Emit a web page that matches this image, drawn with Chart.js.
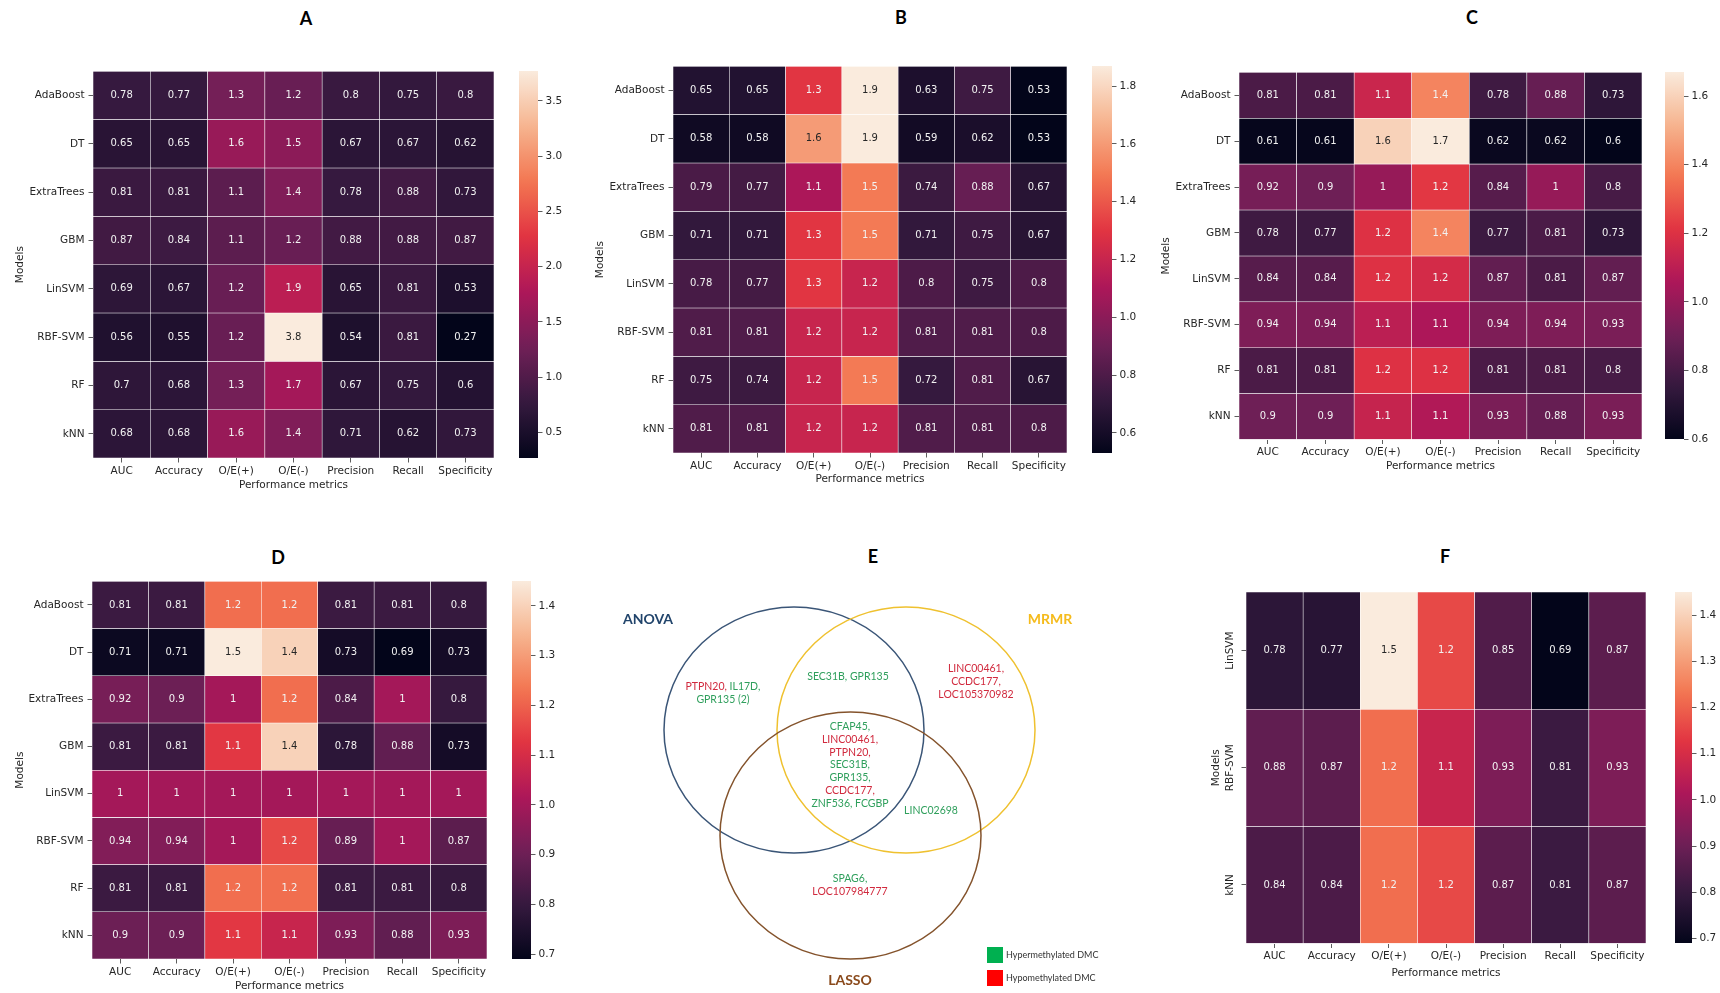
<!DOCTYPE html>
<html>
<head>
<meta charset="utf-8">
<script src="https://cdn.jsdelivr.net/npm/chart.js@4.4.1/dist/chart.umd.min.js"></script>
<style>
  html, body { margin: 0; padding: 0; background: #fff; }
  body { width: 1720px; height: 993px; position: relative; overflow: hidden; }
  canvas { position: absolute; }
  .panel { position: absolute; transform: translate(-50%, -50%); font-family: Lato, 'Open Sans', sans-serif; font-weight: bold; font-size: 18px; color: #000; }
</style>
</head>
<body>
<div class="panel" style="left:306px;top:18px">A</div>
<div class="panel" style="left:901px;top:17px">B</div>
<div class="panel" style="left:1472px;top:17px">C</div>
<div class="panel" style="left:278px;top:557px">D</div>
<div class="panel" style="left:873px;top:556px">E</div>
<div class="panel" style="left:1445px;top:556px">F</div>
<script>
// ---- data ----
const metrics = ['AUC', 'Accuracy', 'O/E(+)', 'O/E(-)', 'Precision', 'Recall', 'Specificity'];
const models = ['AdaBoost', 'DT', 'ExtraTrees', 'GBM', 'LinSVM', 'RBF-SVM', 'RF', 'kNN'];
const modelsF = ['LinSVM', 'RBF-SVM', 'kNN'];

// cell values (printed to 2 significant digits; O/E cells estimated from cell colour where the print is rounded)
const valuesA = [
  [0.78, 0.77, 1.3, 1.2, 0.8, 0.75, 0.8],
  [0.65, 0.65, 1.6, 1.5, 0.67, 0.67, 0.62],
  [0.81, 0.81, 1.1, 1.4, 0.78, 0.88, 0.73],
  [0.87, 0.84, 1.1, 1.2, 0.88, 0.88, 0.87],
  [0.69, 0.67, 1.2, 1.9, 0.65, 0.81, 0.53],
  [0.56, 0.55, 1.2, 3.8, 0.54, 0.81, 0.27],
  [0.7, 0.68, 1.3, 1.7, 0.67, 0.75, 0.6],
  [0.68, 0.68, 1.6, 1.4, 0.71, 0.62, 0.73]
];
const valuesB = [
  [0.65, 0.65, 1.3, 1.9, 0.63, 0.75, 0.53],
  [0.58, 0.58, 1.6, 1.9, 0.59, 0.62, 0.53],
  [0.79, 0.77, 1.1, 1.5, 0.74, 0.88, 0.67],
  [0.71, 0.71, 1.3, 1.5, 0.71, 0.75, 0.67],
  [0.78, 0.77, 1.3, 1.2, 0.8, 0.75, 0.8],
  [0.81, 0.81, 1.2, 1.2, 0.81, 0.81, 0.8],
  [0.75, 0.74, 1.2, 1.5, 0.72, 0.81, 0.67],
  [0.81, 0.81, 1.2, 1.2, 0.81, 0.81, 0.8]
];
const valuesC = [
  [0.81, 0.81, 1.14, 1.4, 0.78, 0.88, 0.73],
  [0.61, 0.61, 1.6, 1.7, 0.62, 0.62, 0.6],
  [0.92, 0.9, 1, 1.22, 0.84, 1, 0.8],
  [0.78, 0.77, 1.2, 1.4, 0.77, 0.81, 0.73],
  [0.84, 0.84, 1.2, 1.17, 0.87, 0.81, 0.87],
  [0.94, 0.94, 1.1, 1.06, 0.94, 0.94, 0.93],
  [0.81, 0.81, 1.2, 1.2, 0.81, 0.81, 0.8],
  [0.9, 0.9, 1.13, 1.07, 0.93, 0.88, 0.93]
];
const valuesD = [
  [0.81, 0.81, 1.22, 1.22, 0.81, 0.81, 0.8],
  [0.71, 0.71, 1.5, 1.4, 0.73, 0.69, 0.73],
  [0.92, 0.9, 1, 1.22, 0.84, 1, 0.8],
  [0.81, 0.81, 1.13, 1.4, 0.78, 0.88, 0.73],
  [1, 1, 1, 1, 1, 1, 1],
  [0.94, 0.94, 1, 1.16, 0.89, 1, 0.87],
  [0.81, 0.81, 1.22, 1.22, 0.81, 0.81, 0.8],
  [0.9, 0.9, 1.13, 1.07, 0.93, 0.88, 0.93]
];
const valuesF = [
  [0.78, 0.77, 1.5, 1.16, 0.85, 0.69, 0.87],
  [0.88, 0.87, 1.22, 1.07, 0.93, 0.81, 0.93],
  [0.84, 0.84, 1.22, 1.16, 0.87, 0.81, 0.87]
];

// colorbar limits and ticks
const rangeA = [0.27, 3.77];
const rangeB = [0.53, 1.87];
const rangeC = [0.6, 1.67];
const rangeD = [0.69, 1.45];
const rangeF = [0.69, 1.45];
const ticksA = [0.5, 1.0, 1.5, 2.0, 2.5, 3.0, 3.5];
const ticksB = [0.6, 0.8, 1.0, 1.2, 1.4, 1.6, 1.8];
const ticksC = [0.6, 0.8, 1.0, 1.2, 1.4, 1.6];
const ticksD = [0.7, 0.8, 0.9, 1.0, 1.1, 1.2, 1.3, 1.4];
const ticksF = [0.7, 0.8, 0.9, 1.0, 1.1, 1.2, 1.3, 1.4];

// venn sets (panel E)
const hypoGenes = ['PTPN20', 'LINC00461', 'CCDC177', 'LOC105370982', 'LOC107984777'];
const anovaOnly = ['PTPN20', 'IL17D', 'GPR135 (2)'];
const anovaMrmr = ['SEC31B', 'GPR135'];
const mrmrOnly = ['LINC00461', 'CCDC177', 'LOC105370982'];
const allThree = ['CFAP45', 'LINC00461', 'PTPN20', 'SEC31B', 'GPR135', 'CCDC177', 'ZNF536', 'FCGBP'];
const mrmrLasso = ['LINC02698'];
const lassoOnly = ['SPAG6', 'LOC107984777'];

// ---- helpers ----
Chart.defaults.font.family = 'DejaVu Sans';
Chart.defaults.color = '#262626';

const rocketStops = [
  [0, [3, 5, 26]], [1 / 7, [53, 25, 62]], [2 / 7, [112, 31, 87]], [3 / 7, [173, 23, 89]],
  [4 / 7, [225, 51, 66]], [5 / 7, [243, 118, 81]], [6 / 7, [246, 180, 143]], [1, [250, 235, 221]]
];
function rocket(t) {
  t = Math.max(0, Math.min(1, t));
  for (let i = 1; i < rocketStops.length; i++) {
    const [t1, c1] = rocketStops[i];
    const [t0, c0] = rocketStops[i - 1];
    if (t <= t1) {
      const f = (t - t0) / (t1 - t0);
      return c0.map((c, k) => Math.round(c + (c1[k] - c) * f));
    }
  }
  return rocketStops[rocketStops.length - 1][1];
}
const css = c => `rgb(${c[0]},${c[1]},${c[2]})`;
function luminance(c) {
  const lin = c.map(v => { v /= 255; return v <= 0.03928 ? v / 12.92 : Math.pow((v + 0.055) / 1.055, 2.4); });
  return 0.2126 * lin[0] + 0.7152 * lin[1] + 0.0722 * lin[2];
}
const fmt = v => String(parseFloat(v.toPrecision(2)));

function addCanvas(x, y, w, h) {
  const c = document.createElement('canvas');
  c.width = Math.round(w); c.height = Math.round(h);
  c.style.left = Math.round(x) + 'px'; c.style.top = Math.round(y) + 'px';
  c.style.width = c.width + 'px'; c.style.height = c.height + 'px';
  document.body.appendChild(c);
  return c;
}

const annotate = {
  id: 'annotate',
  afterDatasetsDraw(chart) {
    const ctx = chart.ctx;
    ctx.save();
    ctx.font = '10px "DejaVu Sans"';
    ctx.textAlign = 'center';
    ctx.textBaseline = 'middle';
    chart.data.datasets.forEach((ds, i) => {
      chart.getDatasetMeta(i).data.forEach((bar, j) => {
        ctx.fillStyle = luminance(ds.rgb[j]) > 0.408 ? '#262626' : '#f2f2f2';
        ctx.fillText(fmt(ds.vals[j]), bar.x, (bar.y + bar.base) / 2);
      });
    });
    ctx.restore();
  }
};

const rotatedY = {
  id: 'rotatedY',
  afterDraw(chart, args, opts) {
    if (!opts.labels) return;
    const s = chart.scales.y, ctx = chart.ctx;
    ctx.save();
    ctx.font = '10.5px "DejaVu Sans"';
    ctx.fillStyle = '#262626';
    ctx.textAlign = 'center';
    ctx.textBaseline = 'middle';
    opts.labels.forEach((lab, i) => {
      ctx.save();
      ctx.translate(chart.chartArea.left - opts.offset, s.getPixelForValue(i + 0.5));
      ctx.rotate(-Math.PI / 2);
      ctx.fillText(lab, 0, 0);
      ctx.restore();
    });
    ctx.restore();
  }
};

const tickFont = { family: 'DejaVu Sans', size: 10.5 };
const gridOpts = { drawOnChartArea: false, offset: false, tickLength: 4.5, color: '#333', tickColor: '#333', tickWidth: 0.8 };

function heatmap(p) {
  const pad = 10;
  const cv = addCanvas(p.L - p.yW, p.T - pad, p.R - p.L + p.yW + pad, p.B - p.T + pad + p.xH);
  const rows = p.rows;
  return new Chart(cv, {
    type: 'bar',
    data: {
      labels: metrics,
      datasets: rows.map((r, i) => {
        const rgb = p.values[i].map(v => rocket((v - p.range[0]) / (p.range[1] - p.range[0])));
        return {
          label: r,
          data: p.values[i].map(() => [i, i + 1]),
          vals: p.values[i],
          rgb: rgb,
          backgroundColor: rgb.map(css),
          borderColor: 'rgba(255,255,255,0.85)',
          borderWidth: 0.6,
          borderSkipped: false,
          grouped: false,
          barPercentage: 1,
          categoryPercentage: 1
        };
      })
    },
    options: {
      responsive: false,
      animation: false,
      layout: { padding: { top: pad, right: pad, left: 0, bottom: 0 } },
      plugins: {
        legend: { display: false },
        tooltip: { enabled: false },
        rotatedY: { labels: p.rotated ? rows : null, offset: 16 }
      },
      scales: {
        x: {
          grid: gridOpts,
          border: { display: false },
          ticks: { font: tickFont, padding: 2, maxRotation: 0, autoSkip: false },
          title: { display: true, text: 'Performance metrics', font: tickFont, padding: { top: 0, bottom: 0 } },
          afterFit: s => { s.height = p.xH; }
        },
        y: {
          type: 'linear',
          min: 0,
          max: rows.length,
          reverse: true,
          afterBuildTicks: a => { a.ticks = rows.map((_, i) => ({ value: i + 0.5 })); },
          grid: gridOpts,
          border: { display: false },
          ticks: { display: !p.rotated, font: tickFont, padding: 4, callback: (v, i) => rows[i] },
          title: { display: true, text: 'Models', font: tickFont, padding: { top: p.yPad, bottom: 0 } },
          afterFit: s => { s.width = p.yW; }
        }
      }
    },
    plugins: [annotate, rotatedY]
  });
}

function colorbar(p) {
  const pad = 10, labW = 34;
  const cv = addCanvas(p.L, p.T - pad, p.R - p.L + labW, p.B - p.T + 2 * pad);
  new Chart(cv, {
    type: 'bar',
    data: {
      labels: [''],
      datasets: [{
        data: [p.range],
        backgroundColor: c => {
          const a = c.chart.chartArea;
          if (!a) return 'transparent';
          const g = c.chart.ctx.createLinearGradient(0, a.bottom, 0, a.top);
          for (let i = 0; i <= 40; i++) g.addColorStop(i / 40, css(rocket(i / 40)));
          return g;
        },
        borderWidth: 0,
        barPercentage: 1,
        categoryPercentage: 1
      }]
    },
    options: {
      responsive: false,
      animation: false,
      layout: { padding: { top: pad, bottom: pad } },
      plugins: { legend: { display: false }, tooltip: { enabled: false } },
      scales: {
        x: { display: false },
        y: {
          position: 'right',
          min: p.range[0],
          max: p.range[1],
          afterBuildTicks: a => { a.ticks = p.ticks.map(v => ({ value: v })); },
          grid: gridOpts,
          border: { display: false },
          ticks: { font: tickFont, padding: 3, callback: v => v.toFixed(1) },
          afterFit: s => { s.width = labW; }
        }
      }
    }
  });
}

// ---- panels A-D, F ----
heatmap({ L: 93, T: 71, R: 494, B: 457.6, yW: 93, yPad: 13.7, xH: 34, rows: models, values: valuesA, range: rangeA });
colorbar({ L: 519, T: 71, R: 538, B: 457.6, range: rangeA, ticks: ticksA });

heatmap({ L: 673, T: 65.7, R: 1067, B: 452.7, yW: 90, yPad: 11, xH: 33, rows: models, values: valuesB, range: rangeB });
colorbar({ L: 1092, T: 65.7, R: 1112, B: 452.7, range: rangeB, ticks: ticksB });

heatmap({ L: 1239, T: 71.7, R: 1642, B: 439, yW: 83, yPad: 3.7, xH: 33.5, rows: models, values: valuesC, range: rangeC });
colorbar({ L: 1665, T: 71.7, R: 1684, B: 439, range: rangeC, ticks: ticksC });

heatmap({ L: 92, T: 580.7, R: 487, B: 958.3, yW: 92, yPad: 13.7, xH: 34, rows: models, values: valuesD, range: rangeD });
colorbar({ L: 512, T: 580.7, R: 531, B: 958.3, range: rangeD, ticks: ticksD });

heatmap({ L: 1246, T: 591.7, R: 1646, B: 942.7, yW: 40, yPad: 3.7, xH: 36.5, rows: modelsF, values: valuesF, range: rangeF, rotated: true });
colorbar({ L: 1675, T: 591.7, R: 1692, B: 942.7, range: rangeF, ticks: ticksF });

// ---- panel E: venn ----
const vennSets = [
  { name: 'ANOVA', cx: 234, cy: 190, rx: 130, ry: 123, line: '#3a5577', text: '#21446b', lx: 88, ly: 79 },
  { name: 'MRMR', cx: 346, cy: 190, rx: 129, ry: 123, line: '#efc12f', text: '#f5bb1c', lx: 490, ly: 79 },
  { name: 'LASSO', cx: 290.5, cy: 295.5, rx: 130.5, ry: 123.5, line: '#84532c', text: '#8a4a1c', lx: 290, ly: 440 }
];
const vennRegions = [
  { genes: anovaOnly, x: 163, y: 147, lines: [2, 1] },
  { genes: anovaMrmr, x: 288, y: 137, lines: [2] },
  { genes: mrmrOnly, x: 416, y: 129, lines: [1, 1, 1] },
  { genes: allThree, x: 290, y: 187, lines: [1, 1, 1, 1, 1, 1, 2] },
  { genes: mrmrLasso, x: 371, y: 271, lines: [1] },
  { genes: lassoOnly, x: 290, y: 339, lines: [1, 1] }
];
const vennLegend = [
  { label: 'Hypermethylated DMC', color: '#00b050', x: 427, y: 407 },
  { label: 'Hypomethylated DMC', color: '#ff0000', x: 427, y: 430 }
];

const vennPlugin = {
  id: 'venn',
  afterDraw(chart) {
    const { ctx, scales: { x, y } } = chart;
    const px = v => x.getPixelForValue(v), py = v => y.getPixelForValue(v);
    ctx.save();
    vennSets.forEach(s => {
      ctx.beginPath();
      ctx.ellipse(px(s.cx), py(s.cy), Math.abs(px(s.cx + s.rx) - px(s.cx)), Math.abs(py(s.cy + s.ry) - py(s.cy)), 0, 0, Math.PI * 2);
      ctx.strokeStyle = s.line;
      ctx.lineWidth = 1.5;
      ctx.stroke();
      ctx.font = 'bold 14px Lato';
      ctx.fillStyle = s.text;
      ctx.textAlign = 'center';
      ctx.textBaseline = 'middle';
      ctx.fillText(s.name, px(s.lx), py(s.ly));
    });
    ctx.font = '10.5px Lato';
    ctx.textBaseline = 'middle';
    ctx.textAlign = 'left';
    const lineH = 12.7;
    vennRegions.forEach(r => {
      let k = 0;
      r.lines.forEach((count, li) => {
        const segs = [];
        for (let m = 0; m < count; m++, k++) {
          const g = r.genes[k];
          const last = k === r.genes.length - 1;
          segs.push({ t: g, c: hypoGenes.includes(g) ? '#d12a3e' : '#2f9f5c' });
          if (!last) segs.push({ t: m < count - 1 ? ', ' : ',', c: segs[segs.length - 1].c });
        }
        const total = segs.reduce((a, s) => a + ctx.measureText(s.t).width, 0);
        let cx = px(r.x) - total / 2;
        const cy = py(r.y + li * lineH);
        segs.forEach(s => {
          ctx.fillStyle = s.c;
          ctx.fillText(s.t, cx, cy);
          cx += ctx.measureText(s.t).width;
        });
      });
    });
    ctx.font = '9px Lato';
    vennLegend.forEach(l => {
      ctx.fillStyle = l.color;
      ctx.fillRect(px(l.x), py(l.y), 16, 16);
      ctx.fillStyle = '#333';
      ctx.fillText(l.label, px(l.x) + 19, py(l.y) + 8);
    });
    ctx.restore();
  }
};

new Chart(addCanvas(560, 540, 560, 453), {
  type: 'scatter',
  data: { datasets: [{ data: [] }] },
  options: {
    responsive: false,
    animation: false,
    layout: { padding: 0 },
    plugins: { legend: { display: false }, tooltip: { enabled: false } },
    scales: {
      x: { type: 'linear', display: false, min: 0, max: 560 },
      y: { type: 'linear', display: false, min: 0, max: 453, reverse: true }
    }
  },
  plugins: [vennPlugin]
});
</script>
</body>
</html>
